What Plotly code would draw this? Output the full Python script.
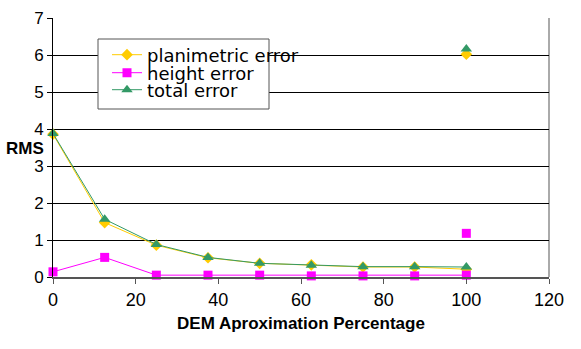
import plotly.graph_objects as go

x_pct = [0, 12.5, 25, 37.5, 50, 62.5, 75, 87.5, 100]
planimetric = [3.86, 1.47, 0.86, 0.52, 0.37, 0.33, 0.27, 0.27, 0.21]
height = [0.14, 0.53, 0.05, 0.05, 0.05, 0.03, 0.03, 0.03, 0.05]
total = [3.88, 1.56, 0.88, 0.53, 0.37, 0.32, 0.28, 0.28, 0.27]

x_extra = 100
planimetric_extra = 6.02
height_extra = 1.18
total_extra = 6.16

names = ["planimetric error", "height error", "total error"]
colors = ["#FFCC00", "#FF00FF", "#339966"]
symbols = ["diamond", "square", "triangle-up"]
sizes = [9, 9, 10]

W, H = 581, 349
ML, MR, MT, MB = 53, 32, 18, 72
pw = W - ML - MR
ph = H - MT - MB

fig = go.Figure()
series = [(planimetric, planimetric_extra), (height, height_extra), (total, total_extra)]
legend_ids = ["legend", "legend2", "legend3"]
for i, (vals, extra) in enumerate(series):
    fig.add_trace(go.Scatter(
        x=x_pct + [None, x_extra],
        y=vals + [None, extra],
        mode="lines+markers",
        name=names[i],
        line=dict(color=colors[i], width=1),
        marker=dict(symbol=symbols[i], size=sizes[i], color=colors[i]),
        cliponaxis=False,
        legend=legend_ids[i],
    ))

row_y = [55, 73, 90]
leg_common = dict(
    xref="paper", yref="paper",
    xanchor="left", yanchor="middle",
    bgcolor="rgba(0,0,0,0)", borderwidth=0,
    font=dict(family="DejaVu Sans", size=18, color="#000"),
    itemwidth=30,
)
layout_legends = {}
for lid, ry in zip(legend_ids, row_y):
    layout_legends[lid] = dict(x=(107 - ML) / pw, y=(H - MB - ry) / ph, **leg_common)

fig.update_layout(
    width=W, height=H,
    margin=dict(l=ML, r=MR, t=MT, b=MB, autoexpand=False),
    paper_bgcolor="white", plot_bgcolor="white",
    font=dict(family="Liberation Sans", size=16, color="#000"),
    showlegend=True,
    **layout_legends,
    xaxis=dict(
        range=[0, 120], dtick=20, tick0=0,
        showgrid=False, zeroline=False,
        showline=True, linecolor="#555", linewidth=2,
        ticks="outside", ticklen=5, tickcolor="#555", tickwidth=1,
        tickfont=dict(family="Liberation Sans", size=18),
        title=dict(text="DEM Aproximation Percentage",
                   font=dict(family="Liberation Sans", size=17, weight="bold"),
                   standoff=9),
    ),
    yaxis=dict(
        range=[0, 7], dtick=1, tick0=0,
        showgrid=True, gridcolor="#000", gridwidth=1,
        zeroline=False,
        showline=True, linecolor="#000", linewidth=1,
        ticks="outside", ticklen=5, tickcolor="#000",
        tickfont=dict(family="Liberation Sans", size=17),
    ),
    shapes=[
        dict(type="rect", xref="paper", yref="paper",
             x0=(98 - ML) / pw, x1=(269 - ML) / pw,
             y0=(H - MB - 109) / ph, y1=(H - MB - 39) / ph,
             fillcolor="white", line=dict(color="#555", width=1), layer="above"),
        dict(type="line", xref="x domain", yref="y domain",
             x0=1, x1=1, y0=0, y1=1,
             line=dict(color="#AAAAAA", width=2), layer="below"),
    ],
    annotations=[
        dict(text="RMS", xref="paper", yref="paper",
             x=(46 - ML) / pw, y=(H - MB - 148) / ph,
             xanchor="right", yanchor="middle", showarrow=False,
             font=dict(family="Liberation Sans", size=17, weight="bold")),
    ],
)

fig.write_html("out.html")
